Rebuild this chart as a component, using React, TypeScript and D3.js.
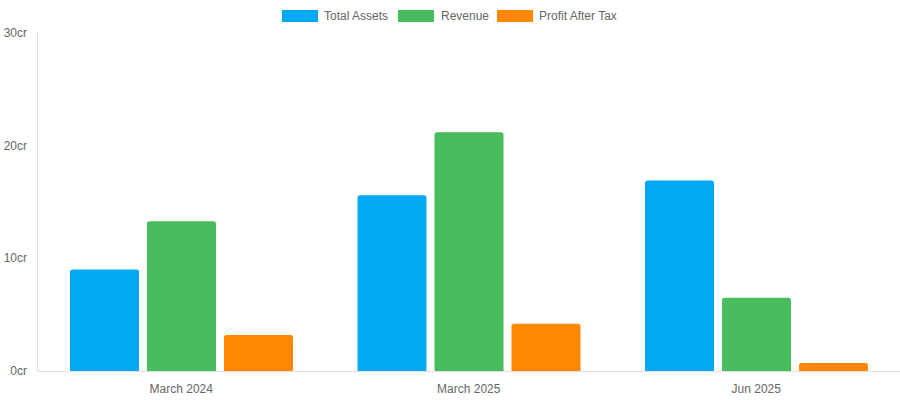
import React from "react";
import * as d3 from "d3";

const categories = ["March 2024", "March 2025", "Jun 2025"];
const seriesNames = ["Total Assets", "Revenue", "Profit After Tax"];
const totalAssets = [9.0, 15.6, 16.9];
const revenue = [13.3, 21.2, 6.5];
const profitAfterTax = [3.2, 4.2, 0.7];
const yTicks = [0, 10, 20, 30];
const colors = ["#03A9F4", "#49BC5E", "#FF8800"];

const W = 900;
const H = 400;
const left = 37.5;
const right = 900;
const top = 33;
const bottom = 371;

function topRounded(x: number, y: number, w: number, h: number, r: number) {
  const rr = Math.min(r, h / 2, w / 2);
  return `M${x},${y + h}V${y + rr}Q${x},${y} ${x + rr},${y}H${x + w - rr}Q${x + w},${y} ${x + w},${y + rr}V${y + h}Z`;
}

export default function App() {
  const series = [totalAssets, revenue, profitAfterTax];
  const x0 = d3.scaleBand<string>().domain(categories).range([left, right]).padding(0);
  const x1 = d3
    .scaleBand<string>()
    .domain(seriesNames)
    .range([32.5, x0.bandwidth() - 32])
    .paddingInner(0.104)
    .paddingOuter(0);
  const y = d3.scaleLinear().domain([0, 30]).range([bottom, top]);

  const font = "'Liberation Sans', Arial, Helvetica, sans-serif";

  const legendItems = [
    { name: seriesNames[0], x: 282, tx: 324 },
    { name: seriesNames[1], x: 398, tx: 441 },
    { name: seriesNames[2], x: 497, tx: 539 },
  ];

  return (
    <svg
      width={W}
      height={H}
      style={{ position: "absolute", left: 0, top: 0, background: "#fff" }}
      fontFamily={font}
    >
      {legendItems.map((it, i) => (
        <g key={it.name}>
          <rect x={it.x} y={10} width={36} height={12} fill={colors[i]} />
          <text x={it.tx} y={16} dominantBaseline="central" fontSize={12} fill="#666">
            {it.name}
          </text>
        </g>
      ))}

      <line x1={left} x2={left} y1={top - 1} y2={bottom} stroke="#e0e0e0" strokeWidth={1} />
      <line x1={left} x2={right} y1={bottom + 0.5} y2={bottom + 0.5} stroke="#e0e0e0" strokeWidth={1} />

      {yTicks.map((t) => (
        <text
          key={t}
          x={27}
          y={y(t)}
          textAnchor="end"
          dominantBaseline="central"
          fontSize={12}
          fill="#666"
        >
          {`${t}cr`}
        </text>
      ))}

      {categories.map((c, ci) => (
        <g key={c}>
          {series.map((s, si) => {
            const bx = (x0(c) as number) + (x1(seriesNames[si]) as number);
            const by = y(s[ci]);
            return (
              <path
                key={si}
                d={topRounded(bx, by, x1.bandwidth(), bottom - by, 2.5)}
                fill={colors[si]}
              />
            );
          })}
          <text
            x={(x0(c) as number) + x0.bandwidth() / 2}
            y={388.5}
            textAnchor="middle"
            dominantBaseline="central"
            fontSize={12}
            fill="#666"
          >
            {c}
          </text>
        </g>
      ))}
    </svg>
  );
}
